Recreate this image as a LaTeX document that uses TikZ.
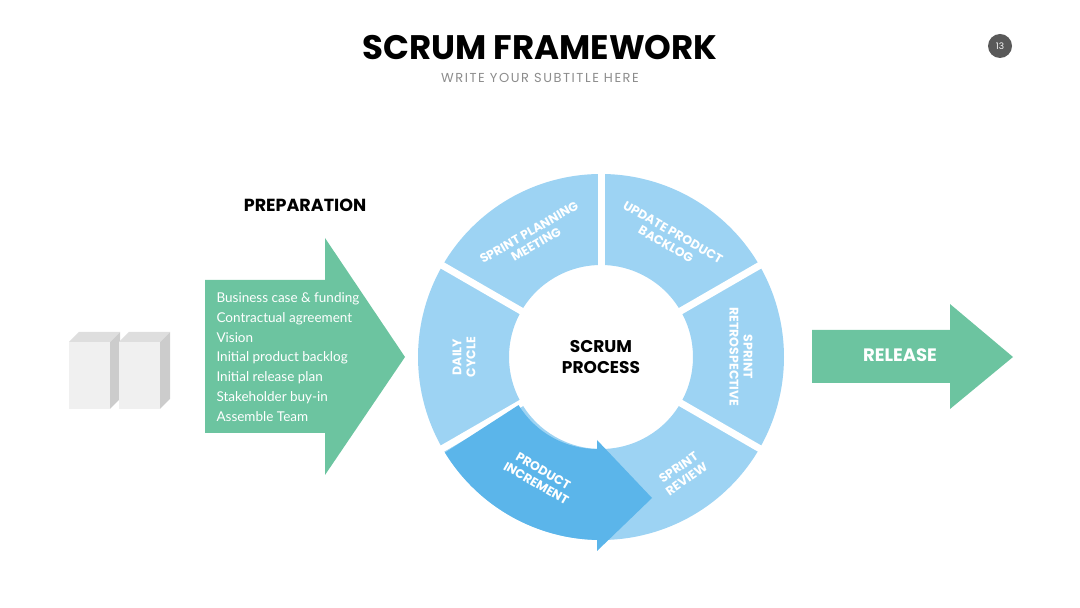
\documentclass[tikz,border=0pt]{standalone}
\usepackage{fontspec}
\setmainfont{Lato}
\newfontfamily\pop{Poppins}
\newfontfamily\popsp{Poppins}[LetterSpace=12]
\usetikzlibrary{positioning}
\definecolor{ringblue}{HTML}{9DD3F3}
\definecolor{incblue}{HTML}{5BB5EA}
\definecolor{prepgreen}{HTML}{6CC4A0}
\tikzset{
  seg/.style={fill=ringblue},
  gap/.style={white, line width=7pt},
  ringlbl/.style={text=white, font=\pop\bfseries\fontsize{12.5}{14}\selectfont, align=center},
  cube/.style={fill=black!6}
}
\begin{document}
\begin{tikzpicture}[x=1pt,y=1pt]
\useasboundingbox (0,0) rectangle (1080,608);
% title
\node[font=\pop\bfseries\fontsize{34}{34}\selectfont] (title) at (540,560) {SCRUM FRAMEWORK};
\node[font=\popsp\fontsize{13}{13}\selectfont, text=black!45] (subtitle) at (540,530) {WRITE YOUR SUBTITLE HERE};
\node[circle, fill=black!65, minimum size=24pt, inner sep=0pt, text=white, font=\pop\fontsize{9}{9}\selectfont] (page) at (1000,562) {13};
% cubes
\foreach \x in {69,119} {
  \fill[black!20] (\x+41,199) -- (\x+51,209) -- (\x+51,276) -- (\x+41,266) -- cycle;
  \fill[black!13] (\x,266) -- (\x+10,276) -- (\x+51,276) -- (\x+41,266) -- cycle;
  \fill[cube] (\x,199) rectangle (\x+41,266);
}
% preparation arrow
\fill[prepgreen] (205,175) -- (325,175) -- (325,133) -- (405,251) -- (325,370) -- (325,328) -- (205,328) -- cycle;
\node[font=\pop\bfseries\fontsize{17.5}{17.5}\selectfont] (prep) at (305,403) {PREPARATION};
\node[anchor=west, text=white, font=\fontsize{13.5}{19.8}\selectfont, align=left] (prepitems) at (213,251)
  {Business case \& funding\\Contractual agreement\\Vision\\Initial product backlog\\Initial release plan\\Stakeholder buy-in\\Assemble Team};
% release arrow
\fill[prepgreen] (812,225) -- (950,225) -- (950,199) -- (1013,251) -- (950,304) -- (950,278) -- (812,278) -- cycle;
\node[text=white, font=\pop\bfseries\fontsize{18}{18}\selectfont] (release) at (900,253) {RELEASE};
% ring
\begin{scope}[shift={(601,251)}]
  \foreach \a in {0,60,120,180,240,300}
    \fill[seg] (\a-30:183) arc[start angle=\a-30, end angle=\a+30, radius=183]
      -- (\a+30:92) arc[start angle=\a+30, end angle=\a-30, radius=92] -- cycle;
  \foreach \a in {90,30,-30,150,210}
    \draw[gap] (\a:88) -- (\a:188);
  % product increment arrow
  \fill[incblue] (211.5:183) arc[start angle=211.5, end angle=270, radius=183]
    -- (-4,-183) -- (-4,-194) -- (51,-141) -- (-4,-83) -- (-4,-92)
    arc[start angle=270, end angle=211.5, radius=92] -- cycle;
  \node[font=\pop\bfseries\fontsize{17}{21}\selectfont, align=center] (process) at (0,0) {SCRUM\\PROCESS};
  \node[ringlbl, rotate=30] (planning) at (120:137) {SPRINT PLANNING\\MEETING};
  \node[ringlbl, rotate=-30] (update) at (60:137) {UPDATE PRODUCT\\BACKLOG};
  \node[ringlbl, rotate=-90] (retro) at (0:140) {SPRINT\\RETROSPECTIVE};
  \node[ringlbl, rotate=35] (review) at (-55:142) {SPRINT\\REVIEW};
  \node[ringlbl, rotate=-30] (increment) at (-117:135) {PRODUCT\\INCREMENT};
  \node[ringlbl, rotate=90] (daily) at (180:137) {DAILY\\CYCLE};
\end{scope}
\end{tikzpicture}
\end{document}
